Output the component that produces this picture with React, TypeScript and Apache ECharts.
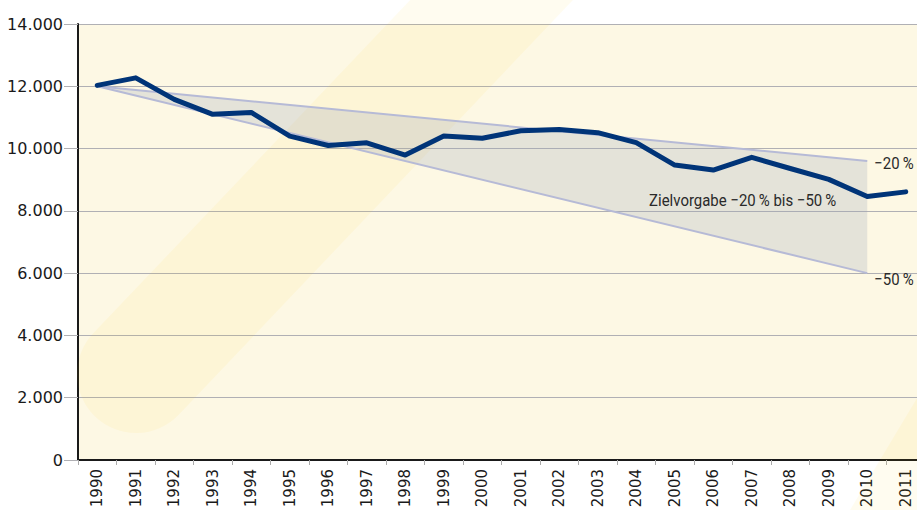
import React, { useEffect, useRef } from "react";
import * as echarts from "echarts";

const years = ["1990","1991","1992","1993","1994","1995","1996","1997","1998","1999","2000","2001","2002","2003","2004","2005","2006","2007","2008","2009","2010","2011"];
const emissions = [12030, 12270, 11580, 11100, 11160, 10400, 10100, 10185, 9790, 10400, 10330, 10570, 10610, 10510, 10190, 9470, 9310, 9720, 9360, 9010, 8460, 8610];
const targetStartYear = "1990";
const targetEndYear = "2010";
const targetStartValue = 12000;
const targetUpper = 9600; // -20 %
const targetLower = 6000; // -50 %
const yTicks = [0, 2000, 4000, 6000, 8000, 10000, 12000, 14000];
const upperLabel = "−20\u2009%";
const lowerLabel = "−50\u2009%";
const bandLabel = "Zielvorgabe −20\u2009% bis −50\u2009%";

const annoFont = "17px Roboto, 'DejaVu Sans Condensed', sans-serif";

export default function App() {
  const ref = useRef<HTMLDivElement>(null);
  useEffect(() => {
    if (!ref.current) return;
    const chart = echarts.init(ref.current, undefined, { renderer: "svg" });
    const startIdx = years.indexOf(targetStartYear);
    const endIdx = years.indexOf(targetEndYear);
    const fmt = (v: number) => String(v).replace(/\B(?=(\d{3})+(?!\d))/g, ".");
    const sx = 0.88;
    chart.setOption({
      animation: false,
      grid: {
        left: 78, right: 0, top: 24, bottom: 50,
        outerBoundsMode: "none",
        containLabel: false,
        show: true, backgroundColor: "#fdf8e4", borderWidth: 0,
      },
      graphic: [
        {
          type: "polyline", z: 1, silent: true,
          shape: { points: [[560, -72], [136, 374]] },
          style: { stroke: "rgba(255,200,0,0.06)", lineWidth: 118, lineCap: "round", fill: null },
        },
        {
          type: "polygon", z: 1, silent: true,
          shape: { points: [[925, 385], [925, 510], [850, 510]] },
          style: { fill: "rgba(255,200,0,0.06)" },
        },
      ],
      xAxis: {
        type: "category",
        data: years,
        boundaryGap: true,
        axisLine: { lineStyle: { color: "#1a1a1a", width: 2 } },
        axisTick: { show: true, length: 5, lineStyle: { color: "#aaaaaa" } },
        axisLabel: { rotate: 90, margin: 9, color: "#1a1a1a", fontFamily: "DejaVu Sans", fontSize: 15, interval: 0 },
        splitLine: { show: false },
      },
      yAxis: {
        type: "value",
        min: yTicks[0], max: yTicks[yTicks.length - 1], interval: 2000,
        axisLine: { show: true, lineStyle: { color: "#1a1a1a", width: 2 } },
        axisTick: { show: true, length: 14, lineStyle: { color: "#b0b0b4" } },
        axisLabel: {
          formatter: (v: number) => fmt(v), margin: 15, color: "#1a1a1a",
          fontFamily: "DejaVu Sans", fontSize: 16, verticalAlign: "middle", padding: [0, 0, 9, 0],
        },
        splitLine: { show: true, lineStyle: { color: "#b0b0b4", width: 1 } },
      },
      series: [
        {
          type: "custom",
          z: 2,
          silent: true,
          clip: false,
          data: [[startIdx, endIdx, targetStartValue, targetUpper, targetLower]],
          encode: { x: [0, 1], y: [2, 3, 4] },
          renderItem: (params: any, api: any) => {
            const a = api.coord([api.value(0), api.value(2)]);
            const b = api.coord([api.value(1), api.value(3)]);
            const c = api.coord([api.value(1), api.value(4)]);
            return {
              type: "group",
              children: [
                {
                  type: "polygon",
                  shape: { points: [a, b, c] },
                  style: { fill: "rgba(160,165,185,0.26)" },
                },
                {
                  type: "text", z2: 20, x: b[0] + 7, y: b[1] + 2, scaleX: sx,
                  style: { text: upperLabel, font: annoFont, fill: "#2a2a2a", align: "left", verticalAlign: "middle" },
                },
                {
                  type: "text", z2: 20, x: c[0] + 7, y: c[1] + 6, scaleX: sx,
                  style: { text: lowerLabel, font: annoFont, fill: "#2a2a2a", align: "left", verticalAlign: "middle" },
                },
                {
                  type: "text", z2: 20, x: b[0] - 31, y: b[1] + 39, scaleX: sx,
                  style: { text: bandLabel, font: annoFont, fill: "#2a2a2a", align: "right", verticalAlign: "middle" },
                },
              ],
            };
          },
        },
        {
          type: "line", z: 3, silent: true, symbol: "none",
          data: [[targetStartYear, targetStartValue], [targetEndYear, targetUpper]],
          lineStyle: { color: "#b6bad6", width: 2 },
        },
        {
          type: "line", z: 3, silent: true, symbol: "none",
          data: [[targetStartYear, targetStartValue], [targetEndYear, targetLower]],
          lineStyle: { color: "#b6bad6", width: 2 },
        },
        {
          type: "line", z: 5, silent: true, symbol: "none",
          data: emissions,
          lineStyle: { color: "#003478", width: 5, join: "round", cap: "round" },
        },
      ],
    });
    return () => chart.dispose();
  }, []);
  return (
    <div style={{ position: "absolute", left: 0, top: 0, width: 917, height: 510, overflow: "hidden" }}>
      <div ref={ref} style={{ width: 925, height: 510 }} />
    </div>
  );
}
